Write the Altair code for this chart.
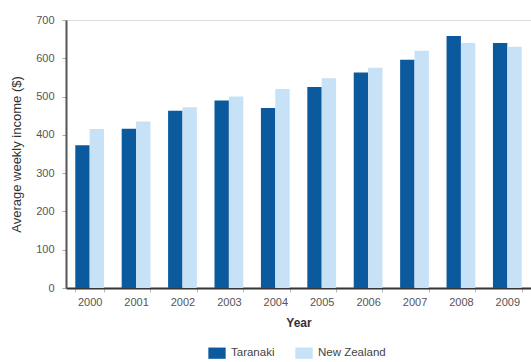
import altair as alt
import pandas as pd

years = ["2000", "2001", "2002", "2003", "2004", "2005", "2006", "2007", "2008", "2009"]
taranaki = [373, 416, 463, 490, 470, 525, 563, 596, 658, 640]
new_zealand = [415, 435, 472, 500, 520, 548, 575, 620, 640, 630]
series = ["Taranaki", "New Zealand"]
colors = ["#0b5a9e", "#c7e1f6"]

rows = []
for i, y in enumerate(years):
    rows.append({"Year": y, "Region": series[0], "Income": taranaki[i]})
    rows.append({"Year": y, "Region": series[1], "Income": new_zealand[i]})
df = pd.DataFrame(rows)

font = "Liberation Sans"

chart = alt.Chart(df).mark_bar().encode(
    x=alt.X("Year:N", sort=years, title="Year",
            scale=alt.Scale(paddingInner=0.38, paddingOuter=0.2),
            axis=alt.Axis(labelAngle=0, labelFontSize=11, labelColor="#555555",
                          titleFontSize=12, titleFontWeight="bold", titleColor="#333333",
                          domainColor="#333333", domainWidth=2, tickColor="#bbbbbb",
                          tickSize=4, tickBand="extent", labelPadding=4, titlePadding=10)),
    xOffset=alt.XOffset("Region:N", sort=series),
    y=alt.Y("Income:Q", title="Average weekly income ($)",
            scale=alt.Scale(domain=[0, 700]),
            axis=alt.Axis(values=[0, 100, 200, 300, 400, 500, 600, 700], grid=False,
                          labelFontSize=11, labelColor="#555555",
                          titleFontSize=13, titleFontWeight="normal", titleColor="#333333",
                          domainColor="#555555", domainWidth=2, tickColor="#aaaaaa",
                          tickSize=4, labelPadding=8, titlePadding=12)),
    color=alt.Color("Region:N", sort=series,
                    scale=alt.Scale(domain=series, range=colors),
                    legend=alt.Legend(title=None, orient="none", direction="horizontal",
                                      legendX=142, legendY=324,
                                      symbolType="M-1,-0.65H1V0.65H-1Z", symbolSize=300,
                                      symbolStrokeWidth=0, symbolOpacity=1,
                                      labelFontSize=11.5, labelColor="#444444",
                                      columnPadding=20, labelOffset=5)),
).properties(
    width=465, height=268,
    padding={"left": 66, "top": 20, "right": 0, "bottom": 74},
    autosize=alt.AutoSizeParams(type="none"),
).configure_view(
    fill="#e9ebee", stroke=None
).configure(font=font, background="white")

chart.save("out.html", embed_options={"renderer": "svg", "actions": False})
